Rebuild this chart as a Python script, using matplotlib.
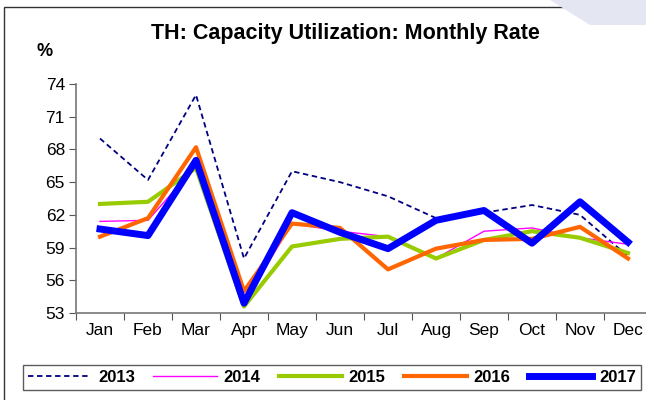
import matplotlib
matplotlib.use("Agg")
from matplotlib import pyplot as plt
from matplotlib.patches import Rectangle, Polygon

plt.rcParams['font.family'] = ['Liberation Sans', 'DejaVu Sans']

months = ['Jan', 'Feb', 'Mar', 'Apr', 'May', 'Jun', 'Jul', 'Aug', 'Sep', 'Oct', 'Nov', 'Dec']
y2013 = [69.0, 65.2, 73.0, 58.0, 66.0, 65.0, 63.7, 61.7, 62.2, 62.9, 62.0, 58.2]
y2014 = [61.4, 61.5, 66.5, 54.0, 61.2, 60.5, 60.0, 58.0, 60.5, 60.8, 59.9, 59.3]
y2015 = [63.0, 63.2, 66.3, 53.6, 59.1, 59.8, 60.0, 58.0, 59.7, 60.5, 59.9, 58.5]
y2016 = [60.0, 61.7, 68.2, 55.0, 61.2, 60.8, 57.0, 58.9, 59.7, 59.8, 60.9, 58.0]
y2017 = [60.7, 60.1, 67.0, 53.9, 62.2, 60.4, 58.9, 61.5, 62.4, 59.4, 63.2, 59.5]

fig = plt.figure(figsize=(6.46, 4.0), dpi=100)

# screenshot frame and the light shape at the top right
fig.patches.append(Rectangle((4 / 646, -0.1), 1.2, 1.1 - 7 / 400, transform=fig.transFigure,
                             fill=False, edgecolor='#333333', linewidth=1.0))
fig.patches.append(Polygon([(550 / 646, 1.0), (1.0, 1.0), (1.0, 1 - 25 / 400), (590 / 646, 1 - 25 / 400)],
                           closed=True, transform=fig.transFigure, facecolor='#e4e6f2', edgecolor='none'))

ax = fig.add_axes([76 / 646, 1 - 313 / 400, 576 / 646, 229 / 400])
x = list(range(12))

ax.plot(x, y2013, color='#000080', linewidth=1.3, linestyle=(0, (3, 2)), label='2013')
ax.plot(x, y2014, color='#ff00ff', linewidth=1.0, label='2014')
ax.plot(x, y2015, color='#99cc00', linewidth=3.0, label='2015')
ax.plot(x, y2016, color='#ff6600', linewidth=3.0, label='2016')
ax.plot(x, y2017, color='#0000ff', linewidth=5.0, label='2017')

ax.set_xlim(-0.5, 11.5)
ax.set_ylim(53, 74)
ax.set_yticks([53, 56, 59, 62, 65, 68, 71, 74])
ax.set_xticks([i + 0.5 for i in range(-1, 12)])
ax.set_xticklabels([])
ax.set_xticks(x, minor=True)
ax.set_xticklabels(months, minor=True)
ax.tick_params(axis='x', which='minor', length=0, pad=7, labelsize=12.5)
ax.tick_params(axis='x', which='major', length=5, color='#555555')
ax.tick_params(axis='y', length=5, color='#555555', labelsize=12.5, pad=3)

for side in ['top', 'right']:
    ax.spines[side].set_visible(False)
for side in ['left', 'bottom']:
    ax.spines[side].set_color('#777777')
    ax.spines[side].set_linewidth(1.2)

fig.text(345 / 646, 1 - 33 / 400, 'TH: Capacity Utilization: Monthly Rate', ha='center', va='center',
         fontsize=15.5, fontweight='bold')
fig.text(45 / 646, 1 - 52 / 400, '%', ha='center', va='center', fontsize=13, fontweight='bold')

leg = fig.legend(loc='center', bbox_to_anchor=(332 / 646, 1 - 377 / 400), ncol=5,
                 prop={'weight': 'bold', 'size': 12}, frameon=True, fancybox=False,
                 handlelength=3.8, handletextpad=0.4, columnspacing=1.1, borderpad=0.3)
leg.get_frame().set_edgecolor('#333333')
leg.get_frame().set_linewidth(1.0)

fig.savefig('out.png', dpi=100)
